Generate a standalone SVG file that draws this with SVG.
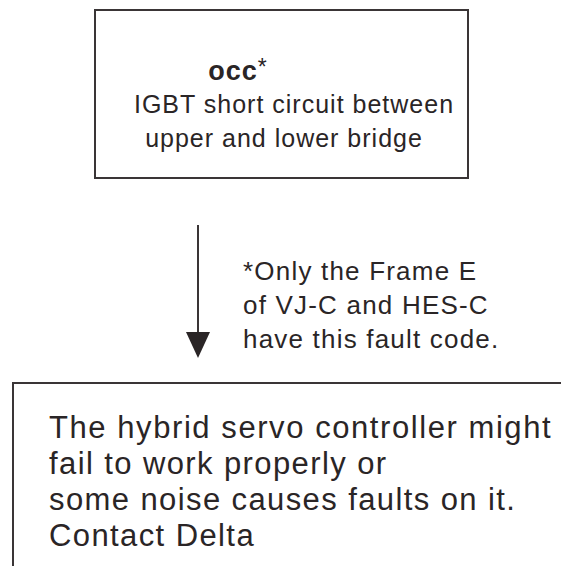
<svg xmlns="http://www.w3.org/2000/svg" width="561" height="566" viewBox="0 0 561 566">
<style>
.box{fill:none;stroke:#3a3536;stroke-width:2}
.t{font-family:"Liberation Sans",Arial,sans-serif;fill:#2a2526;letter-spacing:1px}
.conn{stroke:#3a3536;stroke-width:2;fill:none}
.big{font-size:31px;letter-spacing:1.4px}
.note{font-size:26px;letter-spacing:1.2px}
</style>
<g id="node-occ">
<rect class="box" x="95" y="10" width="373" height="168"/>
<text class="t" x="238" y="80" text-anchor="middle" font-size="27"><tspan font-weight="bold">occ</tspan><tspan font-size="23" dy="-5">*</tspan></text>
<text class="t" x="294" y="113" text-anchor="middle" font-size="25">IGBT short circuit between</text>
<text class="t" x="284" y="147" text-anchor="middle" font-size="25" letter-spacing="0.7">upper and lower bridge</text>
</g>
<g id="connectors">
<line class="conn" x1="198" y1="225" x2="198" y2="335"/>
<polygon points="186,332 210,332 198,358" fill="#2a2526"/>
<text class="t note" x="243" y="280">*Only the Frame E</text>
<text class="t note" x="243" y="314">of VJ-C and HES-C</text>
<text class="t note" x="243" y="348">have this fault code.</text>
</g>
<g id="node-action">
<path class="box" d="M13,600 L13,383 L600,383"/>
<text class="t big" x="49" y="438" textLength="503" lengthAdjust="spacing">The hybrid servo controller might</text>
<text class="t big" x="49" y="474">fail to work properly or</text>
<text class="t big" x="49" y="510">some noise causes faults on it.</text>
<text class="t big" x="49" y="546">Contact Delta</text>
</g>
</svg>
